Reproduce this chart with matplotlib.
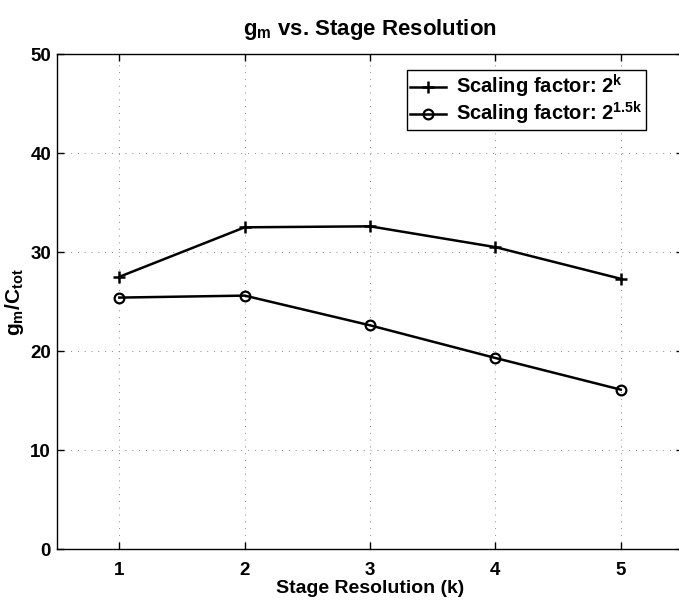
import matplotlib
matplotlib.use("Agg")
import matplotlib.pyplot as plt

k = [1, 2, 3, 4, 5]
gm_2k = [27.5, 32.5, 32.6, 30.5, 27.3]
gm_215k = [25.4, 25.6, 22.6, 19.3, 16.1]
xticks = [1, 2, 3, 4, 5]
yticks = [0, 10, 20, 30, 40, 50]

plt.rcParams['font.family'] = ['Liberation Sans', 'DejaVu Sans']
plt.rcParams['font.weight'] = 'bold'
plt.rcParams['mathtext.fontset'] = 'custom'
plt.rcParams['mathtext.rm'] = 'Liberation Sans:bold'
plt.rcParams['mathtext.it'] = 'Liberation Sans:bold'
plt.rcParams['mathtext.bf'] = 'Liberation Sans:bold'

fig = plt.figure(figsize=(6.79, 6.01), dpi=100)
ax = fig.add_axes([0.0834, 0.0865, 0.9231, 0.8235])

ax.plot(k, gm_2k, color='black', lw=1.8, marker='+', ms=9, mew=1.8,
        label=r'Scaling factor: 2$^{\mathrm{k}}$')
ax.plot(k, gm_215k, color='black', lw=1.8, marker='o', ms=7, mew=1.6,
        mfc='none', label=r'Scaling factor: 2$^{\mathrm{1.5k}}$')

ax.set_xlim(0.5, 5.5)
ax.set_ylim(0, 50)
ax.set_xticks(xticks)
ax.set_yticks(yticks)
ax.grid(True, linestyle=(0, (1, 6)), color='#888888', lw=0.7)
ax.tick_params(direction='in', length=5, top=True, right=True, labelsize=13.5, width=1)
ax.tick_params(axis='x', pad=9)
ax.tick_params(axis='y', pad=4)
for lab in ax.get_xticklabels() + ax.get_yticklabels():
    lab.set_fontweight('bold')
for s in ax.spines.values():
    s.set_linewidth(1.0)

ax.set_xlabel('Stage Resolution (k)', fontsize=14, fontweight='bold', labelpad=1)
ax.set_ylabel(r'g$_{\mathrm{m}}$/C$_{\mathrm{tot}}$', fontsize=15, fontweight='bold', labelpad=3)
ax.set_title(r'g$_{\mathrm{m}}$ vs. Stage Resolution', fontsize=16, fontweight='bold', pad=14)

leg = ax.legend(loc='upper right', bbox_to_anchor=(0.946, 0.976), fontsize=14.5,
                frameon=True, fancybox=False, edgecolor='black', framealpha=1,
                handlelength=1.8, borderpad=0.15, labelspacing=0.0, handletextpad=0.5,
                borderaxespad=0.2)
leg.get_frame().set_linewidth(1.0)
for t in leg.get_texts():
    t.set_fontweight('bold')

fig.savefig('out.png', dpi=100)
